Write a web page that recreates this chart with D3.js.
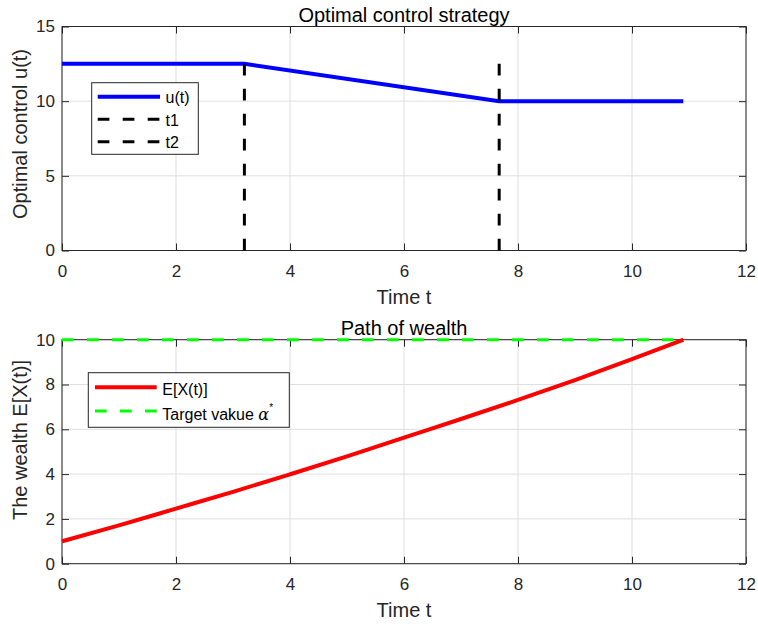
<!DOCTYPE html>
<html lang="en">
<head>
    <meta charset="UTF-8">
    <script src="https://cdn.jsdelivr.net/npm/d3@7/dist/d3.min.js"></script>
    <title>Optimal control strategy</title>
    <style>
        body { margin: 0; background: #fff; }
        svg { font-family: "Liberation Sans", Arial, Helvetica, sans-serif; }
        .tick text { fill: #262626; font-size: 17px; }
        .tick line { stroke: #262626; }
        .domain { display: none; }
    </style>
</head>
<body>
    <svg width="758" height="624"></svg>

    <script>
        // time axis ticks (shared)
        const xTicks = [0, 2, 4, 6, 8, 10, 12];

        // top panel: optimal control u(t)
        const uTime = [0, 3.2, 7.67, 10.9];
        const uValue = [12.5, 12.5, 10, 10];
        const switchTimes = [3.2, 7.67];      // t1, t2
        const switchNames = ['t1', 't2'];
        const switchTop = 12.5;
        const uTicks = [0, 5, 10, 15];

        // bottom panel: path of wealth E[X(t)]
        const wTime = [0, 1, 2, 3, 4, 5, 6, 7, 8, 9, 10, 10.9];
        const wValue = [1.00, 1.71, 2.46, 3.21, 3.99, 4.79, 5.63, 6.46, 7.31, 8.20, 9.13, 10.0];
        const target = 10;
        const wTicks = [0, 2, 4, 6, 8, 10];

        const svg = d3.select('svg');
        const left = 62, right = 746;
        const dash = '11.7,13.3';

        function panel(top, bottom, yMax, yTicks, title, ylabel, ylabelY) {
            const x = d3.scaleLinear().domain([0, 12]).range([left, right]);
            const y = d3.scaleLinear().domain([0, yMax]).range([bottom, top]);
            const g = svg.append('g');

            // grid
            g.selectAll('.gx').data(xTicks).enter().append('line')
                .attr('x1', d => x(d)).attr('x2', d => x(d))
                .attr('y1', top).attr('y2', bottom)
                .attr('stroke', '#dfdfdf').attr('stroke-width', 1);
            g.selectAll('.gy').data(yTicks).enter().append('line')
                .attr('x1', left).attr('x2', right)
                .attr('y1', d => y(d)).attr('y2', d => y(d))
                .attr('stroke', '#dfdfdf').attr('stroke-width', 1);

            // axes, ticks inward on all four sides
            g.append('g').attr('transform', 'translate(0,' + bottom + ')')
                .call(d3.axisBottom(x).tickValues(xTicks).tickSizeInner(-7).tickSizeOuter(0).tickPadding(14));
            g.append('g').attr('transform', 'translate(0,' + top + ')')
                .call(d3.axisTop(x).tickValues(xTicks).tickSizeInner(-7).tickSizeOuter(0).tickFormat(''));
            g.append('g').attr('transform', 'translate(' + left + ',0)')
                .call(d3.axisLeft(y).tickValues(yTicks).tickSizeInner(-7).tickSizeOuter(0).tickPadding(7));
            g.append('g').attr('transform', 'translate(' + right + ',0)')
                .call(d3.axisRight(y).tickValues(yTicks).tickSizeInner(-7).tickSizeOuter(0).tickFormat(''));

            g.append('rect')
                .attr('x', left).attr('y', top)
                .attr('width', right - left).attr('height', bottom - top)
                .attr('fill', 'none').attr('stroke', '#262626').attr('stroke-width', 1);

            g.append('text')
                .attr('x', (left + right) / 2).attr('y', top - 5)
                .attr('text-anchor', 'middle').attr('font-size', '20px').attr('fill', '#000')
                .text(title);
            g.append('text')
                .attr('x', (left + right) / 2).attr('y', bottom + 53)
                .attr('text-anchor', 'middle').attr('font-size', '20px').attr('fill', '#262626')
                .text('Time t');
            g.append('text')
                .attr('transform', 'translate(27,' + ylabelY + ')rotate(-90)')
                .attr('text-anchor', 'middle').attr('font-size', '20px').attr('fill', '#262626')
                .text(ylabel);

            return { g: g, x: x, y: y };
        }

        // ---------- top panel ----------
        const p1 = panel(26.5, 250.5, 15, uTicks, 'Optimal control strategy', 'Optimal control u(t)', 134);
        const uData = uTime.map((t, i) => ({ t: t, v: uValue[i] }));
        p1.g.append('path')
            .datum(uData)
            .attr('d', d3.line().x(d => p1.x(d.t)).y(d => p1.y(d.v)))
            .attr('fill', 'none').attr('stroke', '#0000ff').attr('stroke-width', 4);
        p1.g.selectAll('.sw').data(switchTimes).enter().append('line')
            .attr('x1', d => p1.x(d)).attr('x2', d => p1.x(d))
            .attr('y1', p1.y(switchTop)).attr('y2', p1.y(0))
            .attr('stroke', '#000').attr('stroke-width', 3)
            .attr('stroke-dasharray', dash);

        // legend top
        const lg1 = p1.g.append('g');
        lg1.append('rect').attr('x', 91.7).attr('y', 82.7).attr('width', 106.6).attr('height', 71.6)
            .attr('fill', '#fff').attr('stroke', '#262626').attr('stroke-width', 1);
        const rows1 = [
            { name: 'u(t)', color: '#0000ff', w: 4, dash: null },
            { name: switchNames[0], color: '#000', w: 3, dash: dash },
            { name: switchNames[1], color: '#000', w: 3, dash: dash }
        ];
        rows1.forEach((r, i) => {
            const yy = 96.7 + i * 22.5;
            lg1.append('line').attr('x1', 97.7).attr('x2', 160).attr('y1', yy).attr('y2', yy)
                .attr('stroke', r.color).attr('stroke-width', r.w)
                .attr('stroke-dasharray', r.dash);
            lg1.append('text').attr('x', 165.5).attr('y', yy + 6.5)
                .attr('font-size', '16px').attr('fill', '#000').text(r.name);
        });

        // ---------- bottom panel ----------
        const p2 = panel(339.7, 563.7, 10, wTicks, 'Path of wealth', 'The wealth E[X(t)]', 440);
        const wData = wTime.map((t, i) => ({ t: t, v: wValue[i] }));
        p2.g.append('path')
            .datum(wData)
            .attr('d', d3.line().curve(d3.curveMonotoneX).x(d => p2.x(d.t)).y(d => p2.y(d.v)))
            .attr('fill', 'none').attr('stroke', '#ff0000').attr('stroke-width', 4);
        p2.g.append('line')
            .attr('x1', p2.x(0)).attr('x2', p2.x(d3.max(wTime)))
            .attr('y1', p2.y(target)).attr('y2', p2.y(target))
            .attr('stroke', '#00ff00').attr('stroke-width', 3)
            .attr('stroke-dasharray', dash);

        // legend bottom
        const lg2 = p2.g.append('g');
        lg2.append('rect').attr('x', 88.3).attr('y', 372.7).attr('width', 201).attr('height', 54.6)
            .attr('fill', '#fff').attr('stroke', '#262626').attr('stroke-width', 1);
        lg2.append('line').attr('x1', 95).attr('x2', 156.7).attr('y1', 387.3).attr('y2', 387.3)
            .attr('stroke', '#ff0000').attr('stroke-width', 4);
        lg2.append('text').attr('x', 162.3).attr('y', 394.5)
            .attr('font-size', '16px').attr('fill', '#000').text('E[X(t)]');
        lg2.append('line').attr('x1', 95).attr('x2', 156.7).attr('y1', 411).attr('y2', 411)
            .attr('stroke', '#00ff00').attr('stroke-width', 3).attr('stroke-dasharray', dash);
        const t2 = lg2.append('text').attr('x', 162.3).attr('y', 420)
            .attr('font-size', '16px').attr('fill', '#000');
        t2.append('tspan').text('Target vakue ');
        t2.append('tspan').attr('font-family', '"DejaVu Serif", serif').attr('font-style', 'italic').text('α');
        t2.append('tspan').attr('font-size', '10px').attr('dy', -9).text('*');
    </script>
</body>
</html>
